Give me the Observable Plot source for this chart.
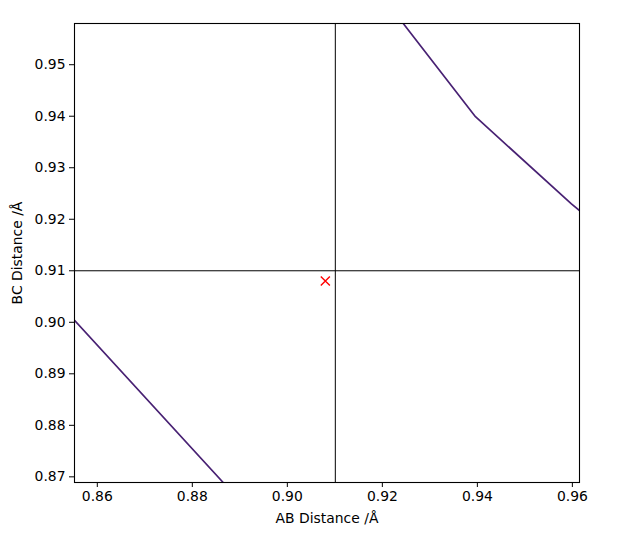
<!DOCTYPE html>
<html>
<head>
<meta charset="utf-8">
<script src="https://cdn.jsdelivr.net/npm/d3@7"></script>
<script src="https://cdn.jsdelivr.net/npm/@observablehq/plot@0.6"></script>
<style>
  body { margin: 0; background: #fff; }
  #chart svg { display: block; }
</style>
</head>
<body>
<div id="chart"></div>
<script>
// contour line segments (AB, BC distances in Å)
var upperAB = [0.9244, 0.9396, 0.9598, 0.9615];
var upperBC = [0.9580, 0.9399, 0.9230, 0.9217];
var lowerAB = [0.8552, 0.8865];
var lowerBC = [0.9004, 0.8689];

// crosshair and marked point
var crossAB = 0.9101;
var crossBC = 0.91;
var pointAB = [0.908];
var pointBC = [0.908];

var xTicks = [0.86, 0.88, 0.90, 0.92, 0.94, 0.96];
var yTicks = [0.87, 0.88, 0.89, 0.90, 0.91, 0.92, 0.93, 0.94, 0.95];
var xDomain = [0.8552, 0.9615];
var yDomain = [0.8689, 0.9580];

var upper = upperAB.map(function (d, i) { return { ab: d, bc: upperBC[i] }; });
var lower = lowerAB.map(function (d, i) { return { ab: d, bc: lowerBC[i] }; });
var point = pointAB.map(function (d, i) { return { ab: d, bc: pointBC[i] }; });

var contourColor = '#482173';
var fmt = d3.format('.2f');

var chart = Plot.plot({
  width: 626,
  height: 539,
  marginLeft: 74,
  marginRight: 47,
  marginTop: 23,
  marginBottom: 57,
  style: { fontFamily: 'DejaVu Sans', fontSize: '13.9px', color: 'black', background: 'white' },
  x: { domain: xDomain },
  y: { domain: yDomain },
  marks: [
    Plot.line(upper, { x: 'ab', y: 'bc', stroke: contourColor, strokeWidth: 1.7, clip: true }),
    Plot.line(lower, { x: 'ab', y: 'bc', stroke: contourColor, strokeWidth: 1.7, clip: true }),
    Plot.ruleX([crossAB], { stroke: 'black', strokeWidth: 1 }),
    Plot.ruleY([crossBC], { stroke: 'black', strokeWidth: 1 }),
    Plot.dot(point, { x: 'ab', y: 'bc', symbol: 'times', r: 4.2, stroke: 'red', strokeWidth: 1.4 }),
    Plot.axisX({ ticks: xTicks, tickFormat: fmt, tickSize: 5, tickPadding: 4, label: 'AB Distance /Å',
      labelAnchor: 'center', labelArrow: 'none', labelOffset: 40 }),
    Plot.axisY({ ticks: yTicks, tickFormat: fmt, tickSize: 5, tickPadding: 4, label: 'BC Distance /Å',
      labelAnchor: 'center', labelArrow: 'none', labelOffset: 62 }),
    Plot.frame({ stroke: 'black', strokeWidth: 1.1 })
  ]
});

document.getElementById('chart').appendChild(chart);
</script>
</body>
</html>
